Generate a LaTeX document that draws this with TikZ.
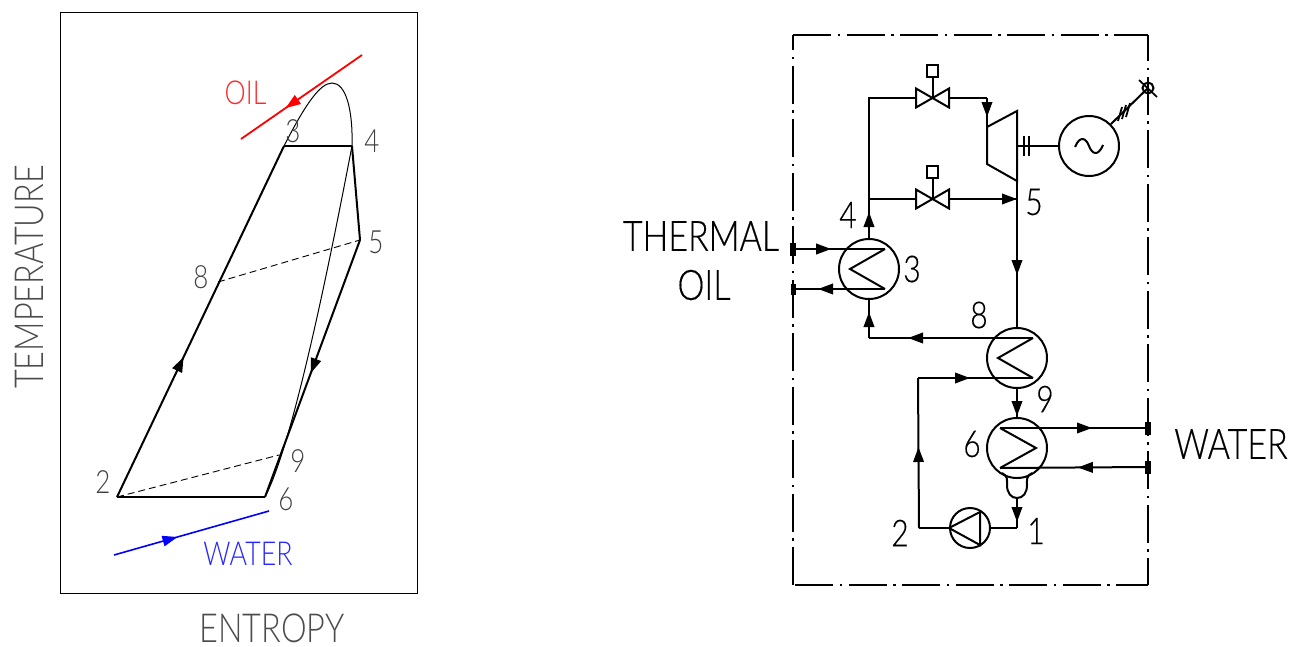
\documentclass[tikz,border=0pt]{standalone}
\usepackage{fontspec}
\usetikzlibrary{arrows.meta,decorations.markings}
\newfontfamily\cad[FakeStretch=0.81]{Lato Light}
\newfontfamily\cadb[FakeStretch=0.81,FakeBold=0.35]{Lato Light}
\tikzset{
  x=1pt,y=-1pt,
  wire/.style={line width=2pt,line join=miter},
  tipat/.style={postaction={decorate,decoration={markings,mark=at position #1pt with {\arrow{Triangle[length=15pt,width=10.5pt]}}}}},
  hx/.style={circle,draw,line width=2pt,minimum size=60pt,inner sep=0pt},
  pumpc/.style={circle,draw,line width=2pt,minimum size=40pt,inner sep=0pt},
  port/.style={rectangle,fill=black,minimum width=6pt,minimum height=13pt,inner sep=0pt},
  vbox/.style={rectangle,draw,line width=2pt,minimum width=11pt,minimum height=12pt,inner sep=0pt},
  framel/.style={line width=2pt,dash pattern=on 38pt off 6.5pt on 2.5pt off 6.5pt},
  big/.style={inner sep=0pt,font=\cadb\fontsize{42pt}{42pt}\selectfont},
  num/.style={inner sep=0pt,font=\cadb\fontsize{37pt}{37pt}\selectfont},
  lnum/.style={inner sep=0pt,text=black!75,font=\cad\fontsize{32pt}{32pt}\selectfont},
  lbig/.style={inner sep=0pt,text=black!70,font=\cad\fontsize{40pt}{40pt}\selectfont},
  lsmall/.style={inner sep=0pt,font=\cad\fontsize{33pt}{33pt}\selectfont},
}
\begin{document}
\begin{tikzpicture}
\useasboundingbox (0,0) rectangle (1302,646);
% ---- T-s diagram
\draw[line width=0.8pt] (60,12) rectangle (417,593);
\coordinate (p2) at (117,497);
\coordinate (p3) at (284,146);
\coordinate (p4) at (352,146);
\coordinate (p5) at (360,240);
\coordinate (p6) at (265,497);
\coordinate (p8) at (218,282);
\coordinate (p9) at (279,455);
\coordinate (dometop) at (332,83);
\draw[line width=2pt,tipat=155] (p2) -- (p3);
\draw[line width=2.4pt] (p3) -- (p4);
\draw[line width=2pt] (p4) -- (p5);
\draw[line width=2pt,tipat=142] (p5) -- (p6);
\draw[line width=2.4pt] (p6) -- (p2);
\draw[line width=1pt] (p3) .. controls (305,105) and (320,83) .. (dometop) .. controls (346,83) and (353,110) .. (p4);
\draw[line width=1pt] (p4) .. controls (332,250) and (294,442) .. (p6);
\draw[line width=0.9pt,dash pattern=on 7pt off 4pt] (p8) -- (p5);
\draw[line width=0.9pt,dash pattern=on 7pt off 4pt] (p2) -- (p9);
\coordinate (oila) at (362,55); \coordinate (oilb) at (241,139);
\draw[red,line width=1.8pt,tipat=93] (oila) -- (oilb);
\coordinate (wata) at (114,555); \coordinate (watb) at (269,511);
\draw[blue,line width=1.6pt,tipat=66] (wata) -- (watb);
\node[lsmall,text=red!85!white] (toil) at (245.5,93) {OIL};
\node[lsmall,text=blue!85!white] (twat) at (248,554) {WATER};
\node[lbig,rotate=90] (ttemp) at (30,277) {TEMPERATURE};
\node[lbig] (tent) at (272,628) {ENTROPY};
\node[lnum] (l2) at (103,482) {2};
\node[lnum] (l3) at (293,131) {3};
\node[lnum] (l4) at (372,141) {4};
\node[lnum] (l5) at (376,242) {5};
\node[lnum] (l6) at (286,499) {6};
\node[lnum] (l8) at (201,277) {8};
\node[lnum] (l9) at (298,461) {9};
% ---- frame
\coordinate (fa) at (793,35); \coordinate (fb) at (1148,35);
\coordinate (fc) at (1148,585); \coordinate (fd) at (793,585);
\draw[framel] (fa) -- (fb);
\draw[framel,dash phase=11.75pt] (fb) -- (fc);
\draw[framel,dash phase=6pt] (fc) -- (fd);
\draw[framel] (fd) -- (fa);
% ---- components
\node[hx] (h3) at (869,269) {};
\node[hx] (h8) at (1017,358) {};
\node[hx] (h6) at (1017,448) {};
\node[pumpc] (pump) at (970,528) {};
\node[hx] (gen) at (1089,146) {};
\node[port] (pa) at (793,249) {};
\node[port,minimum height=11pt,minimum width=5pt] (pb) at (793,289) {};
\node[port] (pc) at (1148,428) {};
\node[port] (pd) at (1148,467) {};
% turbine
\coordinate (t1) at (987,127); \coordinate (t2) at (1017,111);
\coordinate (t3) at (1017,181); \coordinate (t4) at (987,164);
\draw[wire] (t1) -- (t2) -- (t3) -- (t4) -- cycle;
% valves
\foreach \n/\yy/\ys in {a/98/71,b/199/172}{
  \coordinate (v\n) at (932.5,\yy);
  \node[vbox] (s\n) at (932.5,\ys) {};
  \draw[wire] (916,\yy-9.5) -- (949,\yy+9.5) -- (949,\yy-9.5) -- (916,\yy+9.5) -- cycle;
  \draw[wire] (s\n.south) -- (v\n);
  \coordinate (vl\n) at (916,\yy); \coordinate (vr\n) at (949,\yy);
}
% piping
\coordinate (j4a) at (869,199);
\coordinate (j4b) at (869,98);
\coordinate (jtin) at (987,98);
\coordinate (j5) at (1017,199);
\draw[wire,tipat=26] (h3.north) -- (j4a);
\draw[wire] (j4a) -- (j4b) -- (vla);
\draw[wire] (j4a) -- (vlb);
\draw[wire] (vra) -- (jtin);
\draw[wire,tipat=19] (jtin) -- (t1);
\draw[wire,tipat=68] (vrb) -- (j5);
\draw[wire] (t3) -- (j5);
\draw[wire,tipat=76] (j5) -- (h8.north);
% heat exchanger 3
\coordinate (z3a) at (885,249); \coordinate (z3b) at (850,269); \coordinate (z3c) at (885,289);
\draw[wire] (z3a) -- (z3b) -- (z3c);
\draw[wire,tipat=35] (pa) -- (z3a);
\draw[wire,tipat=67] (z3c) -- (pb);
% heat exchanger 8
\coordinate (z8a) at (1033,338); \coordinate (z8b) at (998,358); \coordinate (z8c) at (1033,378);
\draw[wire] (z8a) -- (z8b) -- (z8c);
\coordinate (j3) at (869,338);
\draw[wire,tipat=125] (z8a) -- (j3);
\draw[wire,tipat=26] (j3) -- (h3.south);
\coordinate (j8) at (918,378);
\draw[wire,tipat=52] (j8) -- (z8c);
\draw[wire,tipat=27] (h8.south) -- (h6.north);
% heat exchanger 6
\coordinate (z6a) at (1000,428); \coordinate (z6b) at (1036,448); \coordinate (z6c) at (1000,468);
\draw[wire] (z6a) -- (z6b) -- (z6c);
\draw[wire,tipat=92] (z6a) -- (pc);
\draw[wire,tipat=67] (pd) -- (z6c);
% hotwell
\coordinate (well) at (1017,498);
\draw[wire] (1002,473) .. controls (1008,476) and (1007,480) .. (1007,485) .. controls (1007,493) and (1011,498) .. (well) .. controls (1023,498) and (1027,493) .. (1027,485) .. controls (1027,480) and (1026,476) .. (1032,473);
\coordinate (j1) at (1017,528);
\draw[wire,tipat=24] (well) -- (j1);
\draw[wire] (j1) -- (pump.east);
% pump
\coordinate (pu1) at (980,512); \coordinate (pu2) at (980,545);
\draw[wire] (pu1) -- (pump.west) -- (pu2) -- cycle;
\coordinate (j2) at (919,528);
\draw[wire] (pump.west) -- (j2);
\draw[wire,tipat=81] (j2) -- (j8);
% generator
\draw[wire] (1017,146) -- (gen.west);
\draw[wire] (1024,136) -- (1024,156);
\draw[wire] (1029,136) -- (1029,156);
\draw[line width=2pt] (1075,147) .. controls (1080,135) and (1086,138) .. (1089,146) .. controls (1092,154) and (1098,157) .. (1103,145);
\node[circle,draw,line width=2pt,minimum size=11pt,inner sep=0pt] (grid) at (1148,88) {};
\draw[wire] (gen.45) -- (grid.center);
\draw[line width=1.7pt] (1139,80) -- (1157,97);
\draw[line width=1.8pt] (1118,121) -- (1122,107);
\draw[line width=1.8pt] (1122,119) -- (1126,105);
\draw[line width=1.8pt] (1126,117) -- (1130,103);
% labels
\node[big] (tth) at (701,236) {THERMAL};
\node[big] (tol) at (704,285) {OIL};
\node[big] (twa) at (1231,444) {WATER};
\node[num] (r4) at (848,215) {4};
\node[num] (r3) at (912,269) {3};
\node[num] (r5) at (1034,202) {5};
\node[num] (r8) at (979,315) {8};
\node[num] (r9) at (1045,399) {9};
\node[num] (r6) at (972,444) {6};
\node[num] (r1) at (1036,531) {1};
\node[num] (r2) at (900,533) {2};
\end{tikzpicture}
\end{document}
